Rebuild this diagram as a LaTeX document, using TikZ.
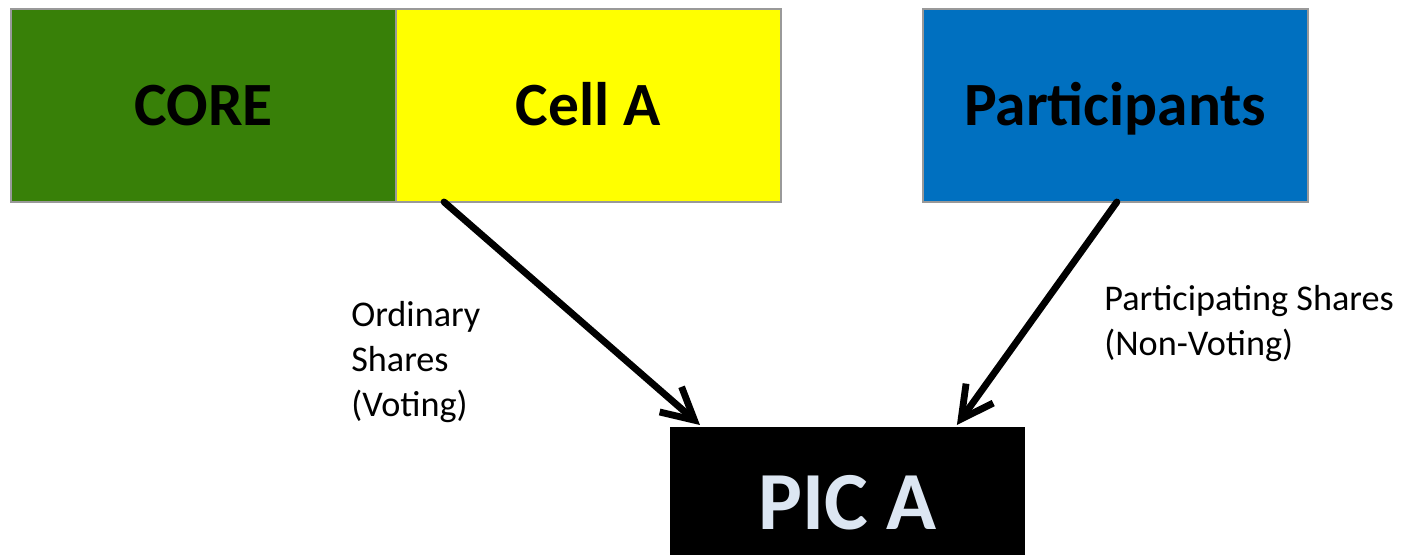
\documentclass[tikz,border=0pt]{standalone}
\usepackage{fontspec}
\setmainfont{Carlito}
\usetikzlibrary{positioning,arrows.meta,calc}

\definecolor{coregreen}{RGB}{56,128,8}
\definecolor{cellyellow}{RGB}{255,255,0}
\definecolor{partblue}{RGB}{0,112,192}
\definecolor{pictext}{RGB}{220,230,242}

\tikzset{
    entity/.style={draw=black!40, line width=1.2pt, outer sep=0pt, inner sep=0pt,
        minimum width=7.7cm, minimum height=3.86cm,
        font=\fontsize{35}{42}\selectfont\bfseries, text height=22.5pt, text depth=0pt},
    share/.style={-{Straight Barb[length=18pt,width=19pt]}, line width=3.9pt,
        line cap=round, line join=round},
    sharetext/.style={align=left, inner sep=0pt, anchor=base west,
        font=\fontsize{20.6}{25.5}\selectfont}
}

\begin{document}
\begin{tikzpicture}[x=0.02cm, y=-0.02cm]
            \useasboundingbox (0,0) rectangle (1408,554);
            % top row
            \node[entity, fill=coregreen] (core) at (203.5,105.5) {CORE};
            \node[entity, fill=cellyellow, right=0pt of core] (cellA) {Cell A};
            \node[entity, fill=partblue, right=2.84cm of cellA] (part) {Participants};
            % the protected cell company
            \node[entity, draw=black, fill=black, text=pictext, minimum width=7.06cm, minimum height=3cm,
                font=\fontsize{47}{56}\selectfont\bfseries, text height=30.3pt] (picA) at (847.5,503) {PIC A};
            % shares
            \coordinate (cellA out) at ($(cellA.south west)!0.125!(cellA.south east)$);
            \coordinate (part out) at ($(part.south west)!0.504!(part.south east)$);
            \coordinate (picA in1) at ($(picA.north west)!0.082!(picA.north east)+(0,-3)$);
            \coordinate (picA in2) at ($(picA.north west)!0.81!(picA.north east)+(0,-3)$);
            \draw[share] (cellA out) -- (picA in1);
            \draw[share] (part out) -- (picA in2);
            \node[sharetext] (ordinary) at (351,416) {Ordinary\\Shares\\(Voting)};
            \node[sharetext] (participating) at (1104,355) {Participating Shares\\(Non-Voting)};
\end{tikzpicture}
\end{document}
